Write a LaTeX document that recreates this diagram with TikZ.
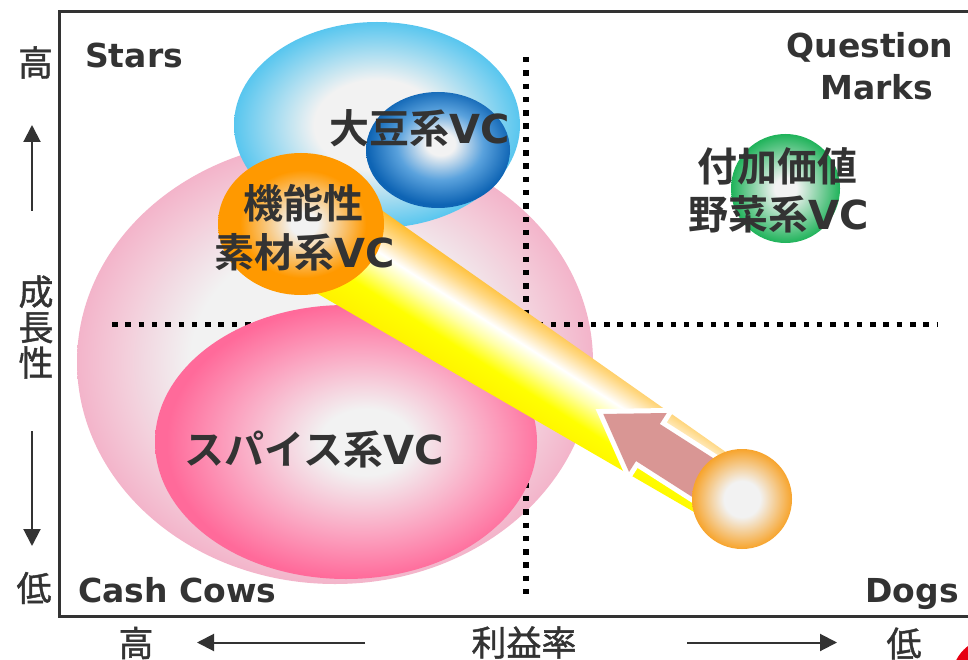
\documentclass[tikz,border=0pt]{standalone}
\usepackage{fontspec}
\setmainfont{DejaVu Sans}
\newfontfamily\jp{Noto Sans CJK JP}[BoldFont={Noto Sans CJK JP Bold}]
\newfontfamily\jpm{Noto Sans CJK JP}[FakeBold=1.2]
\usetikzlibrary{arrows.meta}

\definecolor{txt}{HTML}{333333}
\definecolor{cgray}{HTML}{F2F2F2}
\definecolor{pinkpale}{HTML}{F3B4CA}
\definecolor{pinkhot}{HTML}{FF6A9A}
\definecolor{pinkmid}{HTML}{FBA3C0}
\definecolor{skyblue}{HTML}{58C6EF}
\definecolor{deepblue}{HTML}{0E64B4}
\definecolor{midblue}{HTML}{5AA2DD}
\definecolor{orangeA}{HTML}{FF9900}
\definecolor{orangeB}{HTML}{F7A42C}
\definecolor{greenA}{HTML}{1FB35A}
\definecolor{arrowpink}{HTML}{D99694}
\definecolor{tubetop}{HTML}{FFB71C}
\definecolor{tubebot}{HTML}{FFF000}
\definecolor{logored}{HTML}{E60012}

\pgfdeclareradialshading{bigpinkshade}{\pgfpoint{0bp}{0bp}}{color(0bp)=(cgray); color(14bp)=(cgray); color(25bp)=(pinkpale); color(50bp)=(pinkpale)}
\pgfdeclareradialshading{skyshade}{\pgfpoint{0bp}{0bp}}{color(0bp)=(cgray); color(11bp)=(cgray); color(25bp)=(skyblue); color(50bp)=(skyblue)}
\pgfdeclareradialshading{deepblueshade}{\pgfpoint{1bp}{3bp}}{color(0bp)=(cgray); color(5bp)=(cgray); color(15bp)=(midblue); color(25bp)=(deepblue); color(50bp)=(deepblue)}
\pgfdeclareradialshading{orangeshade}{\pgfpoint{1bp}{0bp}}{color(0bp)=(cgray); color(4bp)=(cgray); color(19bp)=(orangeA); color(50bp)=(orangeA)}
\pgfdeclareradialshading{hotpinkshade}{\pgfpoint{3bp}{0bp}}{color(0bp)=(cgray); color(6bp)=(cgray); color(17bp)=(pinkmid); color(25bp)=(pinkhot); color(50bp)=(pinkhot)}
\pgfdeclareradialshading{greenshade}{\pgfpoint{0bp}{0bp}}{color(0bp)=(cgray); color(5bp)=(cgray); color(25bp)=(greenA); color(50bp)=(greenA)}
\pgfdeclareradialshading{smallorangeshade}{\pgfpoint{0bp}{0bp}}{color(0bp)=(cgray); color(9bp)=(cgray); color(25bp)=(orangeB); color(50bp)=(orangeB)}
\pgfdeclareverticalshading{tubeshade}{100bp}{color(0bp)=(tubebot); color(25bp)=(tubebot); color(40bp)=(yellow); color(50bp)=(yellow!35!white); color(57bp)=(white); color(66bp)=(tubetop!55!white); color(75bp)=(tubetop); color(100bp)=(tubetop)}

\tikzset{
  quad/.style={font=\fontsize{33}{36}\selectfont\bfseries, text=txt, inner sep=0pt},
  vclabel/.style={font=\fontsize{40}{44}\selectfont\bfseries, text=txt, inner sep=0pt},
  axlabel/.style={font=\jpm\fontsize{35}{35.5}\selectfont, text=txt, inner sep=0pt},
  axarrow/.style={draw=txt, line width=2pt, -{Triangle[length=17pt,width=17pt]}},
  dotline/.style={line width=5.5pt, dash pattern=on 5.5pt off 7.8pt},
}

\begin{document}
\begin{tikzpicture}[x=1pt,y=-1pt]
\clip (0,0) rectangle (968,660);
\fill[white] (0,0) rectangle (968,660);

% bubbles behind the grid
\shade[shading=bigpinkshade] (335,362) ellipse [x radius=258, y radius=222];
\shade[shading=skyshade] (377,125) ellipse [x radius=143, y radius=103];
\shade[shading=deepblueshade] (438,150) ellipse [x radius=72, y radius=58];

% dotted quadrant lines
\coordinate (vtop) at (526,57);
\coordinate (vbot) at (526,594);
\coordinate (hleft) at (112,324.5);
\coordinate (hright) at (938,324.5);
\draw[dotline] (vtop) -- (vbot);
\draw[dotline] (hleft) -- (hright);

\shade[shading=hotpinkshade] (346,442) ellipse [x radius=191, y radius=137];

% tube and movement arrow
\begin{scope}[transform canvas={shift={(300,220)}, rotate=-32.6}]
  \shade[shading=tubeshade] (0,-55) -- (528,-32) -- (528,32) -- (0,55) -- cycle;
  \draw[white, line width=10pt, line join=miter]
    (360,0) -- (413,-35) -- (413,-22) -- (525,-22) -- (525,22) -- (413,22) -- (413,35) -- cycle;
  \fill[arrowpink]
    (360,0) -- (413,-35) -- (413,-22) -- (525,-22) -- (525,22) -- (413,22) -- (413,35) -- cycle;
\end{scope}

\shade[shading=orangeshade] (301,224) ellipse [x radius=83, y radius=71];
\shade[shading=smallorangeshade] (742,499) circle (50);
\shade[shading=greenshade] (785.5,188.5) circle (54.5);

% logo fragment
\fill[logored] (992,678) circle (40);

% frame
\draw[txt, line width=3pt] (59,11.7) rectangle (1000,616.7);

% quadrant labels
\node[quad, anchor=base west] (stars) at (85,68) {Stars};
\node[quad, anchor=base] (question) at (870,58) {Question};
\node[quad, anchor=base] (marks) at (877,100) {Marks};
\node[quad, anchor=base west] (cash) at (78,602) {Cash Cows};
\node[quad, anchor=base east] (dogs) at (959,602) {Dogs};

% bubble labels
\node[vclabel] (daizu) at (420,128.5) {{\jp 大豆系}VC};
\node[vclabel] (kino1) at (303,203.5) {{\jp 機能性}};
\node[vclabel] (kino2) at (305,252.5) {{\jp 素材系}VC};
\node[vclabel] (fuka1) at (777.5,166) {{\jp 付加価値}};
\node[vclabel] (fuka2) at (778.5,214.5) {{\jp 野菜系}VC};
\node[vclabel] (spice) at (314,449) {{\jp スパイス系}VC};

% axis labels
\node[axlabel] (yhigh) at (35.5,62.5) {高};
\node[axlabel, align=center] (ytitle) at (36,327) {成\\長\\性};
\node[axlabel] (ylow) at (34,588) {低};
\node[axlabel] (xhigh) at (136,643) {高};
\node[axlabel] (xtitle) at (524,642.5) {利益率};
\node[axlabel] (xlow) at (904,643.5) {低};

% axis arrows
\coordinate (upS) at (32,211);
\coordinate (upE) at (32,125);
\coordinate (dnS) at (32,431);
\coordinate (dnE) at (32,546);
\coordinate (lfS) at (365,642.5);
\coordinate (lfE) at (197,642.5);
\coordinate (rtS) at (687,642.5);
\coordinate (rtE) at (837,642.5);
\draw[axarrow] (upS) -- (upE);
\draw[axarrow] (dnS) -- (dnE);
\draw[axarrow] (lfS) -- (lfE);
\draw[axarrow] (rtS) -- (rtE);
\end{tikzpicture}
\end{document}
